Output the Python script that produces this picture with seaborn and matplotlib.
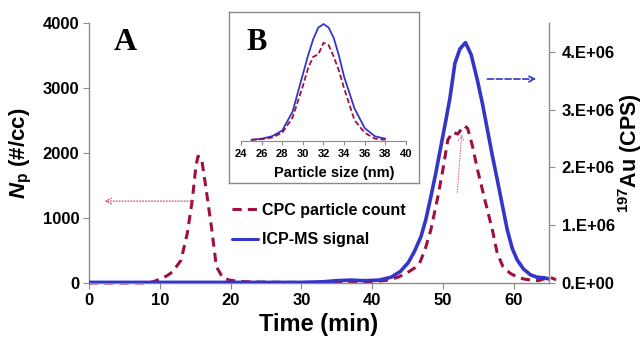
import matplotlib
matplotlib.use('Agg')
import matplotlib.pyplot as plt
import seaborn as sns
from matplotlib.lines import Line2D

# CPC particle count (left axis, #/cc)
cpc_time = [0, 5, 8, 9, 10, 11, 11.8, 13, 13.9, 14.6, 15.1, 15.4, 15.9, 16.5, 17.3, 18,
            18.9, 20, 22, 25, 30, 35, 38, 40, 42, 43.7, 45, 46, 46.7, 47.5, 48.3, 49.3,
            50, 50.7, 51.4, 52.1, 52.5, 53, 53.5, 54.2, 54.9, 56, 57, 57.7, 58.5, 59.5,
            60.5, 61.5, 62.5, 63.5, 64.5, 65.2, 66]
cpc_np = [0, 0, 2, 15, 60, 110, 170, 350, 770, 1280, 1790, 1950, 1920, 1480, 860, 250,
          80, 40, 20, 12, 8, 12, 15, 20, 40, 90, 160, 230, 300, 520, 815, 1330,
          1740, 2200, 2320, 2290, 2350, 2420, 2380, 2100, 1740, 1250, 815, 450, 250, 150,
          90, 60, 45, 35, 70, 85, 50]

# ICP-MS signal (right axis, CPS)
icp_time = [0, 10, 20, 30, 33, 35, 37, 39, 41, 42.7, 44, 45.1, 46, 46.9, 47.6, 48.3, 49,
            49.7, 50.4, 51, 51.7, 52.4, 53.2, 54, 54.9, 55.6, 56.3, 57, 57.7, 58.4, 59.1,
            59.8, 60.5, 61.4, 62.4, 63.3, 64.3, 65]
icp_cps = [0.01e6, 0.01e6, 0.01e6, 0.01e6, 0.02e6, 0.04e6, 0.05e6, 0.04e6, 0.05e6, 0.1e6,
           0.2e6, 0.35e6, 0.55e6, 0.8e6, 1.1e6, 1.49e6, 1.9e6, 2.35e6, 2.8e6, 3.2e6, 3.8e6,
           4.05e6, 4.16e6, 3.95e6, 3.5e6, 3.1e6, 2.65e6, 2.2e6, 1.78e6, 1.35e6, 0.92e6,
           0.6e6, 0.4e6, 0.24e6, 0.14e6, 0.1e6, 0.09e6, 0.07e6]

# inset: size distributions (arbitrary units)
size_nm = [25, 26, 27, 28, 29, 30, 30.5, 31, 31.5, 32, 32.5, 33, 33.5, 34, 35, 36, 37, 38]
size_icp = [0.01, 0.02, 0.04, 0.09, 0.25, 0.57, 0.73, 0.87, 0.97, 1.0, 0.97, 0.88, 0.73,
            0.55, 0.28, 0.11, 0.04, 0.02]
size_cpc = [0.01, 0.015, 0.03, 0.07, 0.2, 0.47, 0.62, 0.72, 0.74, 0.84, 0.82, 0.72, 0.6,
            0.45, 0.18, 0.07, 0.02, 0.01]

left_ticks = [0, 1000, 2000, 3000, 4000]
right_ticks = [0, 1e6, 2e6, 3e6, 4e6]
right_labels = ['0.E+00', '1.E+06', '2.E+06', '3.E+06', '4.E+06']

red = '#a0103e'
blue = '#3535c8'
grey = '#8a8a8a'

sns.set_style('white')
plt.rcParams['font.family'] = ['Liberation Sans', 'DejaVu Sans']
plt.rcParams['font.weight'] = 'bold'
plt.rcParams['text.color'] = 'black'
plt.rcParams['axes.labelcolor'] = 'black'
plt.rcParams['xtick.labelcolor'] = 'black'
plt.rcParams['ytick.labelcolor'] = 'black'
plt.rcParams['mathtext.fontset'] = 'custom'
plt.rcParams['mathtext.bf'] = 'Liberation Sans:bold'
plt.rcParams['mathtext.bfit'] = 'Liberation Sans:italic:bold'
plt.rcParams['mathtext.rm'] = 'Liberation Sans:bold'

fig = plt.figure(figsize=(6.44, 3.43), dpi=100)
ax = fig.add_axes([0.1382, 0.175, 0.7143, 0.758])

sns.lineplot(x=cpc_time, y=cpc_np, ax=ax, color=red, lw=2.2, linestyle=(0, (3, 2)))
ax.lines[-1].set_clip_on(False)
ax.set_xlim(0, 65)
ax.set_ylim(0, 4000)
ax.set_xticks(range(0, 61, 10))
ax.set_yticks(left_ticks)

ax2 = ax.twinx()
sns.lineplot(x=icp_time, y=icp_cps, ax=ax2, color=blue, lw=2.6)
ax2.set_ylim(0, 4.5e6)
ax2.set_yticks(right_ticks)
ax2.set_yticklabels(right_labels)

for a in (ax, ax2):
    for s in a.spines.values():
        s.set_color(grey)
        s.set_linewidth(1)
    a.spines['top'].set_visible(False)
ax2.spines['left'].set_visible(False)
ax2.spines['bottom'].set_visible(False)
ax.spines['right'].set_visible(False)

ax.tick_params(axis='both', bottom=True, left=True, direction='out', length=4,
               color=grey, labelsize=12, pad=3, labelcolor='black')
ax2.tick_params(axis='y', right=True, direction='out', length=4, color=grey,
                labelsize=12, pad=5, labelcolor='black')

ax.set_xlabel('Time (min)', fontsize=17, fontweight='bold', labelpad=4)
ax.set_ylabel(r'$\mathbfit{N}_{\mathbf{p}}$ (#/cc)', fontsize=16, fontweight='bold', labelpad=6)
ax2.set_ylabel(r'$^{\mathbf{197}}$Au (CPS)', fontsize=15.5, fontweight='bold', labelpad=1)

# arrows
ax.annotate('', xy=(1.8, 1260), xytext=(15.2, 1260),
            arrowprops=dict(arrowstyle='->', color='#c04060', lw=0.8, ls=':'))
ax.annotate('', xy=(52.7, 2330), xytext=(52.0, 1350),
            arrowprops=dict(arrowstyle='->', color='#d06080', lw=0.7, ls=':'))
ax2.annotate('', xy=(63.6, 3.53e6), xytext=(55.9, 3.53e6),
             arrowprops=dict(arrowstyle='->', color=blue, lw=1.2, ls='--'))

handles = [Line2D([], [], color=red, lw=2.2, linestyle=(0, (3, 2))),
           Line2D([], [], color=blue, lw=2.2)]
fig.legend(handles, ['CPC particle count', 'ICP-MS signal'], loc='upper left',
           bbox_to_anchor=(232 / 644, 1 - 203 / 343), frameon=False, fontsize=11.5,
           handlelength=1.6, handletextpad=0.3, labelspacing=0.9, borderpad=0,
           borderaxespad=0)

fig.text(125 / 644, 1 - 42 / 343, 'A', family='Liberation Serif', weight='bold',
         size=23, ha='center', va='center')

# inset B
box = fig.add_axes([0.3556, 0.4665, 0.295, 0.4985])
box.set_xticks([])
box.set_yticks([])
for s in box.spines.values():
    s.set_color(grey)
    s.set_linewidth(1)
box.set_zorder(3)

ins = fig.add_axes([0.3742, 0.5889, 0.2562, 0.358])
ins.set_zorder(4)
ins.patch.set_alpha(0)
sns.lineplot(x=size_nm, y=size_icp, ax=ins, color=blue, lw=1.3)
sns.lineplot(x=size_nm, y=size_cpc, ax=ins, color=red, lw=1.3, linestyle=(0, (3, 1.5)))
ins.set_xlim(24, 40)
ins.set_ylim(0, 1.05)
ins.set_xticks(range(24, 41, 2))
ins.set_yticks([])
for k in ('top', 'left', 'right'):
    ins.spines[k].set_visible(False)
ins.spines['bottom'].set_color(grey)
ins.tick_params(axis='x', bottom=True, direction='out', length=3, color=grey,
                labelsize=8, pad=3, labelcolor='black')
ins.set_xlabel('Particle size (nm)', fontsize=10.5, fontweight='bold')
ins.xaxis.set_label_coords(0.564, -0.2)

fig.text(257 / 644, 1 - 42 / 343, 'B', family='Liberation Serif', weight='bold',
         size=22, ha='center', va='center', zorder=5)

fig.savefig('out.png', dpi=100)
